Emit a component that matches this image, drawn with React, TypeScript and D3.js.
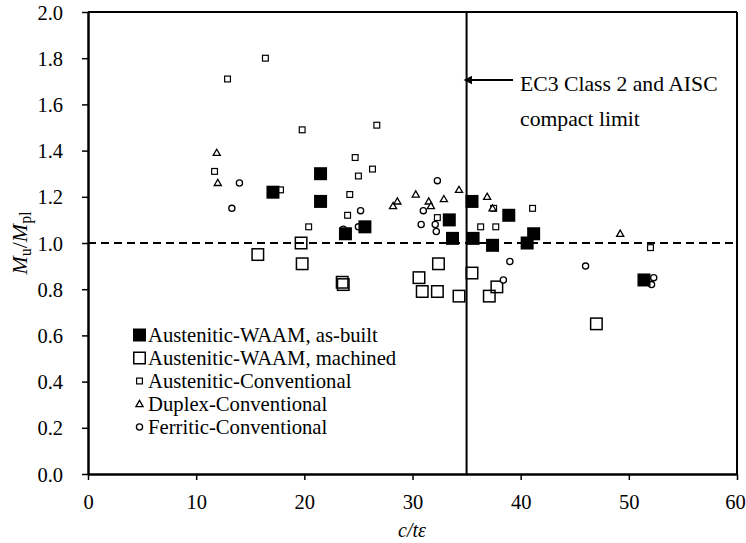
import React, { useEffect, useRef } from "react";
import * as d3 from "d3";

// c/tε and Mu/Mpl
const asBuiltX = [17.1, 21.5, 21.5, 23.8, 25.6, 33.4, 33.7, 35.5, 35.6, 37.4, 40.6, 41.2, 38.9, 51.4];
const asBuiltY = [1.22, 1.30, 1.18, 1.04, 1.07, 1.10, 1.02, 1.18, 1.02, 0.99, 1.00, 1.04, 1.12, 0.84];

const machinedX = [15.7, 19.7, 19.8, 23.5, 23.6, 32.4, 30.6, 30.9, 32.3, 34.3, 35.5, 37.8, 37.1, 47.0];
const machinedY = [0.95, 1.00, 0.91, 0.83, 0.82, 0.91, 0.85, 0.79, 0.79, 0.77, 0.87, 0.81, 0.77, 0.65];

const austConvX = [16.4, 12.9, 19.8, 26.7, 11.7, 24.7, 26.3, 25.0, 17.8, 24.2, 24.0, 20.4, 32.3, 36.3, 37.7, 37.5, 41.1, 52.0];
const austConvY = [1.80, 1.71, 1.49, 1.51, 1.31, 1.37, 1.32, 1.29, 1.23, 1.21, 1.12, 1.07, 1.11, 1.07, 1.07, 1.15, 1.15, 0.98];

const duplexX = [11.9, 12.0, 28.2, 28.6, 30.3, 31.5, 31.7, 32.9, 34.3, 36.9, 37.4, 49.2];
const duplexY = [1.39, 1.26, 1.16, 1.18, 1.21, 1.18, 1.16, 1.19, 1.23, 1.20, 1.15, 1.04];

const ferriticX = [14.0, 13.3, 25.2, 23.6, 25.0, 32.3, 31.0, 30.8, 32.1, 32.2, 39.0, 38.4, 46.0, 52.3, 52.1];
const ferriticY = [1.26, 1.15, 1.14, 1.06, 1.07, 1.27, 1.14, 1.08, 1.08, 1.05, 0.92, 0.84, 0.90, 0.85, 0.82];

const legendLabels = [
  "Austenitic-WAAM, as-built",
  "Austenitic-WAAM, machined",
  "Austenitic-Conventional",
  "Duplex-Conventional",
  "Ferritic-Conventional",
];

const xTicks = [0, 10, 20, 30, 40, 50, 60];
const yTicks = [0, 0.2, 0.4, 0.6, 0.8, 1.0, 1.2, 1.4, 1.6, 1.8, 2.0];
const limitX = 35;
const unityY = 1.0;

const W = 746;
const H = 543;
const margin = { top: 12, right: 9, bottom: 69, left: 88 };
const font = "Liberation Serif";

const zip = (xs: number[], ys: number[]) => xs.map((x, i) => ({ x, y: ys[i] }));

export default function App() {
  const xRef = useRef<SVGGElement>(null);
  const yRef = useRef<SVGGElement>(null);

  const x = d3.scaleLinear().domain([0, 60]).range([margin.left, W - margin.right]);
  const y = d3.scaleLinear().domain([0, 2]).range([H - margin.bottom, margin.top]);

  useEffect(() => {
    const gx = d3.select(xRef.current!);
    gx.selectAll("*").remove();
    gx.call(d3.axisBottom(x).tickValues(xTicks).tickSize(6).tickSizeOuter(0).tickFormat(d3.format("d")) as any);
    const gy = d3.select(yRef.current!);
    gy.selectAll("*").remove();
    gy.call(d3.axisLeft(y).tickValues(yTicks).tickSize(6).tickSizeOuter(0).tickFormat(d3.format(".1f")) as any);
    [gx, gy].forEach(g => {
      g.select(".domain").attr("stroke", "#000").attr("stroke-width", 2.5);
      g.selectAll(".tick line").attr("stroke", "#000").attr("stroke-width", 1.5);
      g.selectAll(".tick text")
        .attr("fill", "#000")
        .style("font-family", font)
        .style("font-size", "20.5px");
    });
    gx.selectAll(".tick text").attr("y", 20).attr("dy", "0.71em");
    gx.selectAll<SVGTextElement, number>(".tick text").filter(d => d === 60).attr("x", -2);
    gy.selectAll(".tick text").attr("x", -25).attr("dy", "0.35em");
  }, []);

  const tri = d3.symbol().type(d3.symbolTriangle).size(22)();

  const bigSq = 13;
  const smallSq = 7;

  const legendX = 139.5;
  const legendY0 = 335;
  const legendStep = 23;

  const renderMarker = (k: number, cx: number, cy: number, key?: string | number) => {
    if (k === 0)
      return <rect key={key} x={cx - bigSq / 2} y={cy - bigSq / 2} width={bigSq} height={bigSq} fill="#000" />;
    if (k === 1)
      return (
        <rect key={key} x={cx - bigSq / 2 + 0.75} y={cy - bigSq / 2 + 0.75} width={bigSq - 1.5} height={bigSq - 1.5}
          fill="none" stroke="#000" strokeWidth={1.5} />
      );
    if (k === 2)
      return (
        <rect key={key} x={cx - smallSq / 2 + 0.6} y={cy - smallSq / 2 + 0.6} width={smallSq - 1.2} height={smallSq - 1.2}
          fill="#fff" stroke="#000" strokeWidth={1.2} />
      );
    if (k === 3)
      return <path key={key} d={tri!} transform={`translate(${cx},${cy + 0.5})`} fill="#fff" stroke="#000" strokeWidth={1.3} />;
    return <circle key={key} cx={cx} cy={cy} r={3.1} fill="#fff" stroke="#000" strokeWidth={1.3} />;
  };

  // drawing order: machined, conventional sets, then as-built on top
  const layers: [number, { x: number; y: number }[]][] = [
    [1, zip(machinedX, machinedY)],
    [2, zip(austConvX, austConvY)],
    [3, zip(duplexX, duplexY)],
    [4, zip(ferriticX, ferriticY)],
    [0, zip(asBuiltX, asBuiltY)],
  ];

  return (
    <svg width={W} height={H} style={{ position: "absolute", left: 0, top: 0, background: "#fff" }}>
      <rect x={0} y={0} width={W} height={H} fill="#fff" />
      {/* frame */}
      <line x1={x(0)} x2={x(60)} y1={y(2)} y2={y(2)} stroke="#000" strokeWidth={2} />
      <line x1={x(60)} x2={x(60)} y1={y(2)} y2={y(0)} stroke="#000" strokeWidth={2} />

      {/* unity line and compact limit */}
      <line x1={x(0)} x2={x(60)} y1={y(unityY)} y2={y(unityY)} stroke="#000" strokeWidth={2} strokeDasharray="8,5" />
      <line x1={x(limitX)} x2={x(limitX)} y1={y(2)} y2={y(0)} stroke="#000" strokeWidth={2} />

      <g ref={xRef} transform={`translate(0,${y(0)})`} />
      <g ref={yRef} transform={`translate(${x(0)},0)`} />

      {layers.map(([k, pts]) => (
        <g key={k}>{pts.map((p, i) => renderMarker(k, x(p.x), y(p.y), i))}</g>
      ))}

      {/* annotation */}
      <defs>
        <marker id="arr" viewBox="0 0 10 10" refX={1} refY={5} markerWidth={5} markerHeight={5} orient="auto-start-reverse">
          <path d="M0,0 L10,5 L0,10 z" fill="#000" />
        </marker>
      </defs>
      <line x1={513} x2={x(limitX) + 5} y1={80} y2={80} stroke="#000" strokeWidth={1.8} markerEnd="url(#arr)" />
      <text x={520} y={91} fontFamily={font} fontSize={21.7} fill="#000">EC3 Class 2 and AISC</text>
      <text x={520} y={126} fontFamily={font} fontSize={21.7} fill="#000">compact limit</text>

      {/* legend */}
      {legendLabels.map((lab, i) => (
        <g key={lab}>
          {renderMarker(i, legendX, legendY0 + i * legendStep)}
          <text x={148} y={legendY0 + i * legendStep + 7} fontFamily={font} fontSize={20.7} fill="#000">{lab}</text>
        </g>
      ))}

      {/* axis titles */}
      <text x={412} y={537} textAnchor="middle" fontFamily={font} fontSize={20} fontStyle="italic" fill="#000">c/tε</text>
      <text transform={`translate(27,${y(1)}) rotate(-90)`} textAnchor="middle" fontFamily={font} fontSize={22} fill="#000">
        <tspan fontStyle="italic">M</tspan>
        <tspan fontSize={16} dy={4}>u</tspan>
        <tspan dy={-4}>/</tspan>
        <tspan fontStyle="italic">M</tspan>
        <tspan fontSize={16} dy={4}>pl</tspan>
      </text>
    </svg>
  );
}
